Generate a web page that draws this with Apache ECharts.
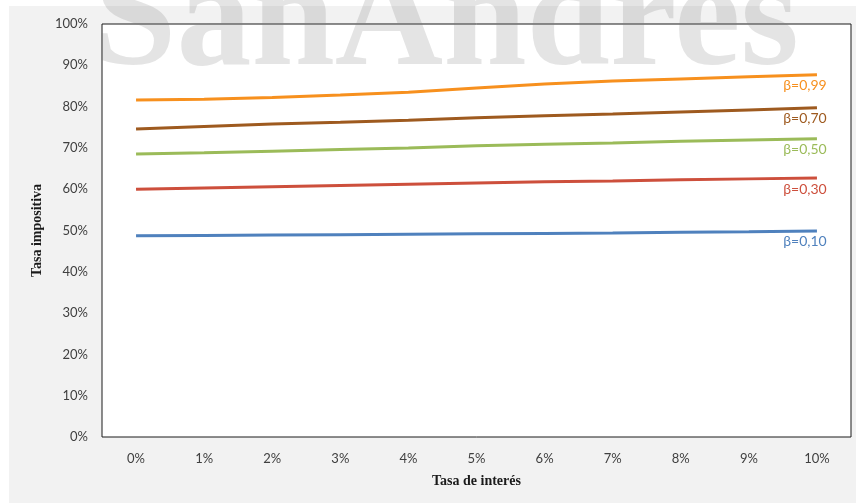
<!DOCTYPE html>
<html>
<head>
<meta charset="utf-8">
<script src="https://cdn.jsdelivr.net/npm/echarts@6/dist/echarts.min.js"></script>
<style>
  html, body { margin: 0; padding: 0; background: #ffffff; }
  #panel { position: absolute; left: 9px; top: 6px; width: 847px; height: 497px; background: #f2f2f2; }
  #chart { position: absolute; left: 0; top: 0; width: 856px; height: 503px; }
</style>
</head>
<body>
<div id="panel"></div>
<div id="chart"></div>
<script>
// Interest rate categories (x axis)
const categories = ['0%', '1%', '2%', '3%', '4%', '5%', '6%', '7%', '8%', '9%', '10%'];

// Tax rate (%) for each discount factor β
const beta010 = [48.7, 48.8, 48.9, 49.0, 49.1, 49.2, 49.3, 49.4, 49.6, 49.7, 49.9];
const beta030 = [60.0, 60.3, 60.6, 60.9, 61.2, 61.5, 61.8, 62.0, 62.3, 62.5, 62.7];
const beta050 = [68.5, 68.8, 69.2, 69.6, 70.0, 70.5, 70.9, 71.2, 71.6, 71.9, 72.2];
const beta070 = [74.6, 75.2, 75.8, 76.2, 76.7, 77.3, 77.8, 78.2, 78.7, 79.2, 79.7];
const beta099 = [81.6, 81.8, 82.2, 82.8, 83.5, 84.5, 85.5, 86.2, 86.7, 87.2, 87.7];

const seriesNames = ['β=0,10', 'β=0,30', 'β=0,50', 'β=0,70', 'β=0,99'];
const seriesValues = [beta010, beta030, beta050, beta070, beta099];
const seriesColors = ['#4F81BD', '#CD4F3C', '#9BBB59', '#9E5A1F', '#F7901E'];

// Only the last point of each line carries its β label, just under the line end
function withEndLabel(values, name, color) {
  return values.map((v, i) => i === values.length - 1 ? {
    value: v,
    label: {
      show: true,
      position: 'bottom',
      distance: 3,
      offset: [-12, 1],
      formatter: name,
      color: color,
      fontFamily: 'Lato',
      fontSize: 14
    }
  } : v);
}

const chart = echarts.init(document.getElementById('chart'), null, { renderer: 'canvas' });

chart.setOption({
  backgroundColor: 'transparent',
  animation: false,
  grid: {
    left: 102, top: 24, right: 5, bottom: 66,
    show: true,
    backgroundColor: '#ffffff',
    borderColor: '#1a1a1a',
    borderWidth: 1
  },
  xAxis: {
    type: 'category',
    data: categories,
    boundaryGap: true,
    name: 'Tasa de interés',
    nameLocation: 'middle',
    nameGap: 37,
    nameTextStyle: { fontFamily: 'Liberation Serif', fontWeight: 'bold', fontSize: 14, color: '#1a1a1a' },
    axisLine: { show: false },
    axisTick: { show: false },
    axisLabel: { margin: 15, fontFamily: 'Lato', fontSize: 13, color: '#404040' },
    splitLine: { show: false }
  },
  yAxis: {
    type: 'value',
    min: 0, max: 100, interval: 10,
    name: 'Tasa impositiva',
    nameLocation: 'middle',
    nameRotate: 90,
    nameGap: 56,
    nameTextStyle: { fontFamily: 'Liberation Serif', fontWeight: 'bold', fontSize: 14, color: '#1a1a1a' },
    axisLine: { show: false },
    axisTick: { show: false },
    axisLabel: { margin: 14, formatter: '{value}%', fontFamily: 'Lato', fontSize: 13, color: '#404040' },
    splitLine: { show: false }
  },
  graphic: [{
    type: 'text',
    z: 100,
    silent: true,
    x: 93,
    y: 100,
    style: {
      text: 'SanAndres',
      font: 'bold 150px "Liberation Serif"',
      fill: 'rgba(120,120,120,0.2)',
      verticalAlign: 'bottom'
    }
  }],
  series: seriesValues.map((vals, k) => ({
    type: 'line',
    name: seriesNames[k],
    data: withEndLabel(vals, seriesNames[k], seriesColors[k]),
    showSymbol: true,
    symbol: 'circle',
    symbolSize: 0,
    lineStyle: { width: 3, color: seriesColors[k] },
    itemStyle: { color: seriesColors[k] },
    z: 3
  }))
});
</script>
</body>
</html>
